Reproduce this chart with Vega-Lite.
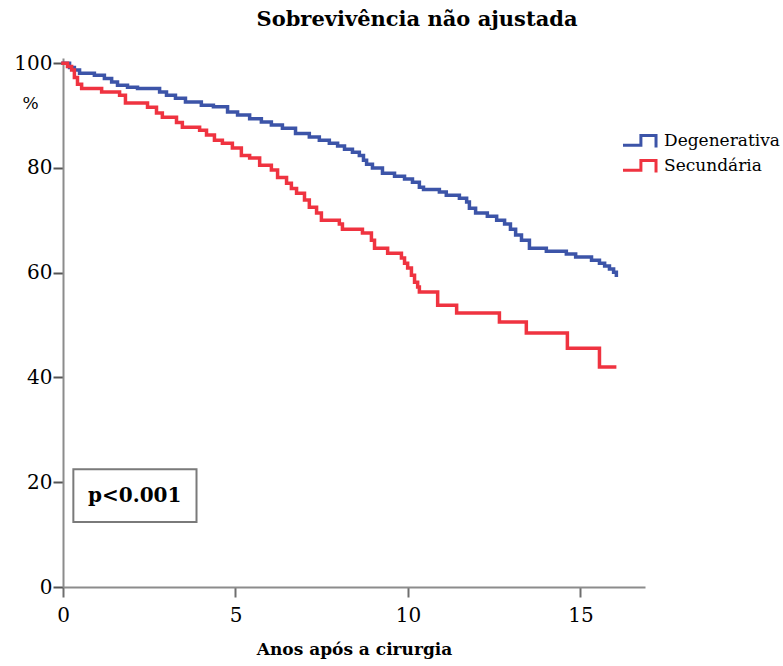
{
  "$schema": "https://vega.github.io/schema/vega-lite/v6.json",
  "width": 582,
  "height": 529,
  "autosize": {"type": "none"},
  "padding": {"left": 63, "top": 58, "right": 138, "bottom": 79},
  "background": "white",
  "config": {
    "view": {"stroke": null},
    "font": "DejaVu Serif"
  },
  "title": {
    "text": "Sobrevivência não ajustada",
    "font": "DejaVu Serif",
    "fontSize": 21,
    "fontWeight": "bold",
    "color": "#000000",
    "anchor": "middle",
    "frame": "group",
    "dx": 63,
    "offset": 23
  },
  "datasets": {
    "km": [
      {"grupo": "Degenerativa", "anos": 0, "pct": 100},
      {"grupo": "Degenerativa", "anos": 0.19, "pct": 99.2},
      {"grupo": "Degenerativa", "anos": 0.33, "pct": 98.7},
      {"grupo": "Degenerativa", "anos": 0.48, "pct": 98.1},
      {"grupo": "Degenerativa", "anos": 0.91, "pct": 97.7},
      {"grupo": "Degenerativa", "anos": 1.2, "pct": 97.1},
      {"grupo": "Degenerativa", "anos": 1.41, "pct": 96.4},
      {"grupo": "Degenerativa", "anos": 1.58, "pct": 95.8},
      {"grupo": "Degenerativa", "anos": 1.87, "pct": 95.4},
      {"grupo": "Degenerativa", "anos": 2.16, "pct": 95.2},
      {"grupo": "Degenerativa", "anos": 2.8, "pct": 94.5},
      {"grupo": "Degenerativa", "anos": 3.0, "pct": 93.9},
      {"grupo": "Degenerativa", "anos": 3.26, "pct": 93.3},
      {"grupo": "Degenerativa", "anos": 3.55, "pct": 92.6},
      {"grupo": "Degenerativa", "anos": 4.01, "pct": 92.0},
      {"grupo": "Degenerativa", "anos": 4.36, "pct": 91.7},
      {"grupo": "Degenerativa", "anos": 4.77, "pct": 90.7},
      {"grupo": "Degenerativa", "anos": 5.06, "pct": 90.1},
      {"grupo": "Degenerativa", "anos": 5.41, "pct": 89.4},
      {"grupo": "Degenerativa", "anos": 5.75, "pct": 88.8},
      {"grupo": "Degenerativa", "anos": 6.04, "pct": 88.2},
      {"grupo": "Degenerativa", "anos": 6.36, "pct": 87.6},
      {"grupo": "Degenerativa", "anos": 6.74, "pct": 86.6},
      {"grupo": "Degenerativa", "anos": 7.14, "pct": 85.9},
      {"grupo": "Degenerativa", "anos": 7.43, "pct": 85.3},
      {"grupo": "Degenerativa", "anos": 7.72, "pct": 84.7},
      {"grupo": "Degenerativa", "anos": 7.96, "pct": 84.2},
      {"grupo": "Degenerativa", "anos": 8.16, "pct": 83.6},
      {"grupo": "Degenerativa", "anos": 8.39, "pct": 83.0},
      {"grupo": "Degenerativa", "anos": 8.59, "pct": 82.4},
      {"grupo": "Degenerativa", "anos": 8.71, "pct": 81.5},
      {"grupo": "Degenerativa", "anos": 8.8, "pct": 80.7},
      {"grupo": "Degenerativa", "anos": 8.97, "pct": 80.0},
      {"grupo": "Degenerativa", "anos": 9.26, "pct": 79.0},
      {"grupo": "Degenerativa", "anos": 9.61, "pct": 78.4},
      {"grupo": "Degenerativa", "anos": 9.9, "pct": 77.9},
      {"grupo": "Degenerativa", "anos": 10.13, "pct": 77.3},
      {"grupo": "Degenerativa", "anos": 10.33, "pct": 76.3},
      {"grupo": "Degenerativa", "anos": 10.45, "pct": 75.9},
      {"grupo": "Degenerativa", "anos": 10.91, "pct": 75.4},
      {"grupo": "Degenerativa", "anos": 11.11, "pct": 74.8},
      {"grupo": "Degenerativa", "anos": 11.49, "pct": 74.2},
      {"grupo": "Degenerativa", "anos": 11.7, "pct": 73.5},
      {"grupo": "Degenerativa", "anos": 11.78, "pct": 72.3},
      {"grupo": "Degenerativa", "anos": 11.96, "pct": 71.4},
      {"grupo": "Degenerativa", "anos": 12.3, "pct": 70.8},
      {"grupo": "Degenerativa", "anos": 12.57, "pct": 70.0},
      {"grupo": "Degenerativa", "anos": 12.8, "pct": 69.3},
      {"grupo": "Degenerativa", "anos": 12.97, "pct": 68.3},
      {"grupo": "Degenerativa", "anos": 13.12, "pct": 67.2},
      {"grupo": "Degenerativa", "anos": 13.29, "pct": 66.2},
      {"grupo": "Degenerativa", "anos": 13.52, "pct": 64.7},
      {"grupo": "Degenerativa", "anos": 14.01, "pct": 64.1},
      {"grupo": "Degenerativa", "anos": 14.59, "pct": 63.6},
      {"grupo": "Degenerativa", "anos": 14.86, "pct": 63.0},
      {"grupo": "Degenerativa", "anos": 15.32, "pct": 62.4},
      {"grupo": "Degenerativa", "anos": 15.55, "pct": 61.8},
      {"grupo": "Degenerativa", "anos": 15.7, "pct": 61.3},
      {"grupo": "Degenerativa", "anos": 15.84, "pct": 60.7},
      {"grupo": "Degenerativa", "anos": 15.96, "pct": 60.1},
      {"grupo": "Degenerativa", "anos": 16.04, "pct": 59.5},
      {"grupo": "Secundária", "anos": 0, "pct": 100},
      {"grupo": "Secundária", "anos": 0.13, "pct": 99.4},
      {"grupo": "Secundária", "anos": 0.25, "pct": 98.7},
      {"grupo": "Secundária", "anos": 0.33, "pct": 97.3},
      {"grupo": "Secundária", "anos": 0.42, "pct": 96.0},
      {"grupo": "Secundária", "anos": 0.54, "pct": 95.2},
      {"grupo": "Secundária", "anos": 1.12, "pct": 94.5},
      {"grupo": "Secundária", "anos": 1.64, "pct": 93.9},
      {"grupo": "Secundária", "anos": 1.81, "pct": 92.4},
      {"grupo": "Secundária", "anos": 2.45, "pct": 91.6},
      {"grupo": "Secundária", "anos": 2.71, "pct": 90.5},
      {"grupo": "Secundária", "anos": 2.88, "pct": 89.7},
      {"grupo": "Secundária", "anos": 3.29, "pct": 88.7},
      {"grupo": "Secundária", "anos": 3.46, "pct": 87.8},
      {"grupo": "Secundária", "anos": 3.96, "pct": 87.2},
      {"grupo": "Secundária", "anos": 4.16, "pct": 86.3},
      {"grupo": "Secundária", "anos": 4.39, "pct": 85.3},
      {"grupo": "Secundária", "anos": 4.62, "pct": 84.7},
      {"grupo": "Secundária", "anos": 4.91, "pct": 83.8},
      {"grupo": "Secundária", "anos": 5.17, "pct": 82.4},
      {"grupo": "Secundária", "anos": 5.41, "pct": 81.9},
      {"grupo": "Secundária", "anos": 5.7, "pct": 80.5},
      {"grupo": "Secundária", "anos": 6.04, "pct": 79.6},
      {"grupo": "Secundária", "anos": 6.22, "pct": 78.2},
      {"grupo": "Secundária", "anos": 6.48, "pct": 77.1},
      {"grupo": "Secundária", "anos": 6.62, "pct": 76.1},
      {"grupo": "Secundária", "anos": 6.77, "pct": 75.2},
      {"grupo": "Secundária", "anos": 7.0, "pct": 73.9},
      {"grupo": "Secundária", "anos": 7.14, "pct": 72.5},
      {"grupo": "Secundária", "anos": 7.35, "pct": 71.4},
      {"grupo": "Secundária", "anos": 7.49, "pct": 70.0},
      {"grupo": "Secundária", "anos": 8.01, "pct": 69.3},
      {"grupo": "Secundária", "anos": 8.1, "pct": 68.3},
      {"grupo": "Secundária", "anos": 8.68, "pct": 67.6},
      {"grupo": "Secundária", "anos": 8.94, "pct": 66.2},
      {"grupo": "Secundária", "anos": 9.03, "pct": 64.7},
      {"grupo": "Secundária", "anos": 9.41, "pct": 63.7},
      {"grupo": "Secundária", "anos": 9.81, "pct": 62.8},
      {"grupo": "Secundária", "anos": 9.9, "pct": 61.8},
      {"grupo": "Secundária", "anos": 9.99, "pct": 60.9},
      {"grupo": "Secundária", "anos": 10.1, "pct": 59.5},
      {"grupo": "Secundária", "anos": 10.19, "pct": 58.2},
      {"grupo": "Secundária", "anos": 10.28, "pct": 57.3},
      {"grupo": "Secundária", "anos": 10.33, "pct": 56.3},
      {"grupo": "Secundária", "anos": 10.86, "pct": 53.8},
      {"grupo": "Secundária", "anos": 11.41, "pct": 52.3},
      {"grupo": "Secundária", "anos": 12.65, "pct": 50.6},
      {"grupo": "Secundária", "anos": 13.43, "pct": 48.5},
      {"grupo": "Secundária", "anos": 14.62, "pct": 45.6},
      {"grupo": "Secundária", "anos": 15.55, "pct": 42.0},
      {"grupo": "Secundária", "anos": 15.99, "pct": 42.0}
    ],
    "nota": [
      {"texto": "p<0.001", "x0": 0.3, "x1": 3.87, "y0": 12.4, "y1": 22.5, "xm": 2.08, "ym": 17.4}
    ]
  },
  "layer": [
    {
      "data": {"name": "km"},
      "mark": {"type": "line", "interpolate": "step-after", "strokeWidth": 3.5, "strokeJoin": "miter", "strokeCap": "square"},
      "encoding": {
        "x": {
          "field": "anos",
          "type": "quantitative",
          "scale": {"domain": [0, 16.87], "nice": false, "zero": false},
          "axis": {
            "values": [0, 5, 10, 15],
            "title": "Anos após a cirurgia",
            "titleFont": "DejaVu Serif",
            "titleFontSize": 17,
            "titleFontWeight": "bold",
            "titleColor": "#000000",
            "titlePadding": 16,
            "labelFont": "DejaVu Serif",
            "labelFontSize": 20,
            "labelColor": "#000000",
            "labelPadding": 8,
            "labelFlush": false,
            "grid": false,
            "domainColor": "#8c8c8c",
            "domainWidth": 2,
            "tickColor": "#6e6e6e",
            "tickWidth": 2,
            "tickSize": 10
          }
        },
        "y": {
          "field": "pct",
          "type": "quantitative",
          "scale": {"domain": [0, 101], "nice": false},
          "axis": {
            "values": [0, 20, 40, 60, 80, 100],
            "title": "%",
            "titleAngle": 0,
            "titleX": -33,
            "titleY": 45,
            "titleAlign": "center",
            "titleBaseline": "middle",
            "titleFont": "DejaVu Serif",
            "titleFontSize": 17,
            "titleFontWeight": "normal",
            "titleColor": "#000000",
            "labelFont": "DejaVu Serif",
            "labelFontSize": 20,
            "labelColor": "#000000",
            "labelPadding": 1,
            "grid": false,
            "domainColor": "#8c8c8c",
            "domainWidth": 2,
            "tickColor": "#555555",
            "tickWidth": 2,
            "tickSize": 10
          }
        },
        "color": {
          "field": "grupo",
          "type": "nominal",
          "scale": {"domain": ["Degenerativa", "Secundária"], "range": ["#3c54a8", "#ef3340"]},
          "legend": {
            "title": null,
            "orient": "none",
            "legendX": 568,
            "legendY": 74,
            "padding": 0,
            "symbolType": "M-2.36,0.67H0.2V-0.71H2.36V1",
            "symbolSize": 196,
            "symbolStrokeWidth": 3,
            "symbolFillColor": "transparent",
            "labelFont": "DejaVu Serif",
            "labelFontSize": 17,
            "labelColor": "#000000",
            "labelOffset": 16,
            "rowPadding": 0
          }
        }
      }
    },
    {
      "data": {"name": "nota"},
      "mark": {"type": "rect", "fill": "white", "fillOpacity": 0, "stroke": "#7a7a7a", "strokeWidth": 2},
      "encoding": {
        "x": {"field": "x0", "type": "quantitative"},
        "x2": {"field": "x1"},
        "y": {"field": "y0", "type": "quantitative"},
        "y2": {"field": "y1"}
      }
    },
    {
      "data": {"name": "nota"},
      "mark": {"type": "text", "font": "DejaVu Serif", "fontSize": 20, "fontWeight": "bold", "color": "#000000", "align": "center", "baseline": "middle"},
      "encoding": {
        "x": {"field": "xm", "type": "quantitative"},
        "y": {"field": "ym", "type": "quantitative"},
        "text": {"field": "texto"}
      }
    }
  ]
}
